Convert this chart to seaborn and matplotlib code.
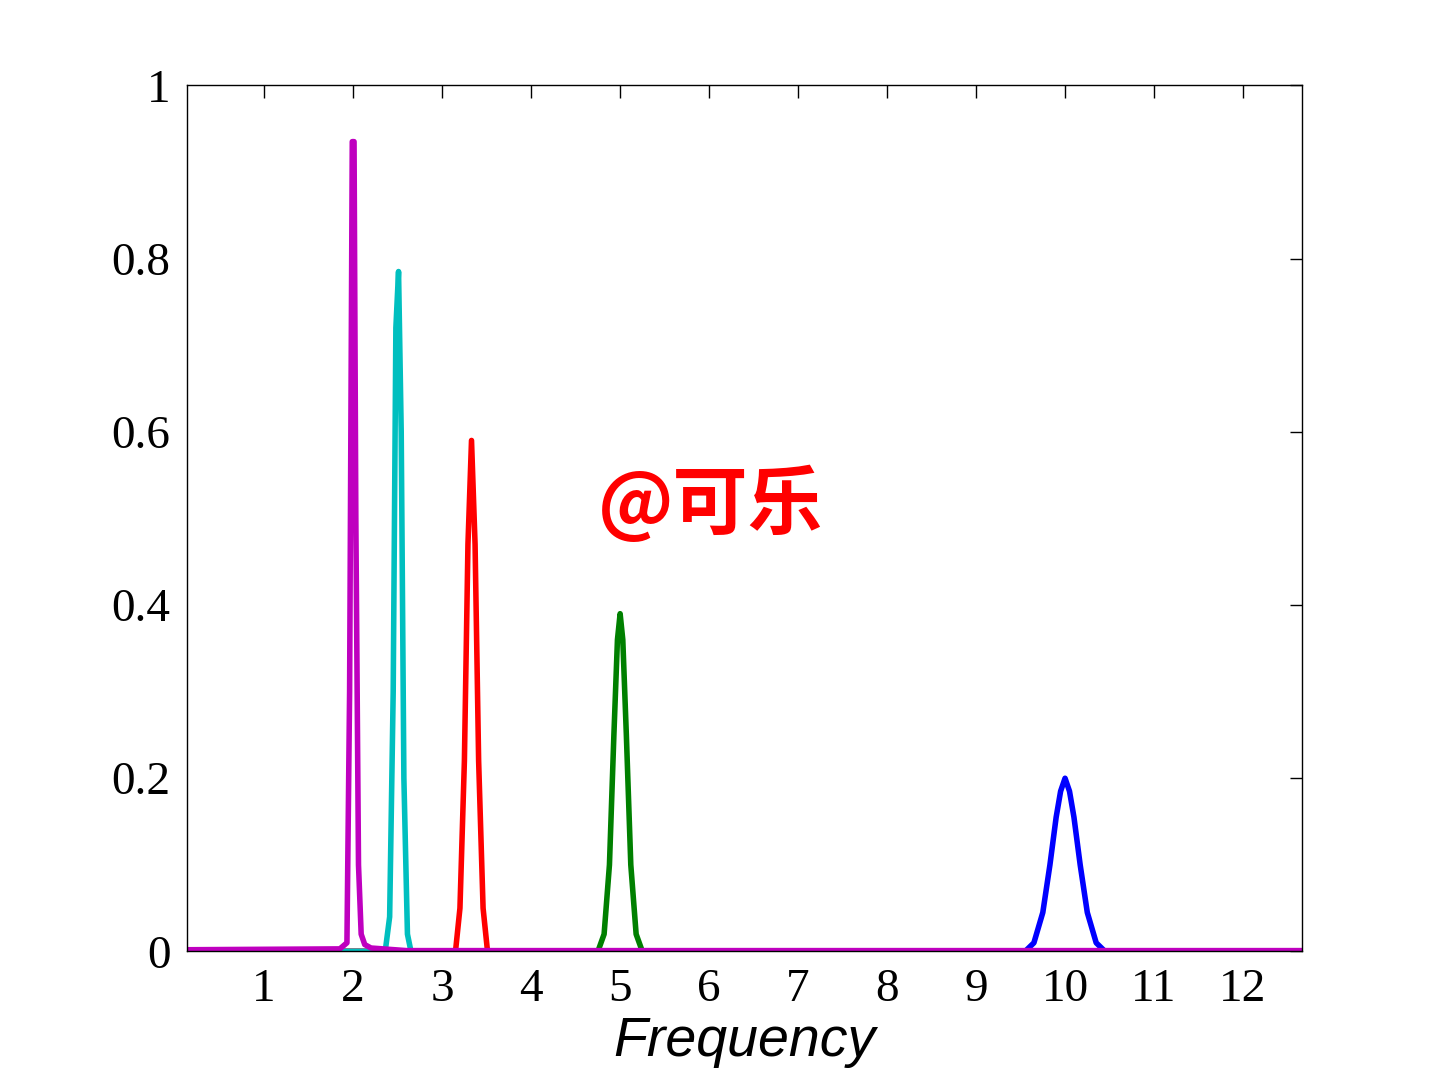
import seaborn as sns
import pandas as pd
import matplotlib.pyplot as plt

x_lo, x_hi = 0.135, 12.66

blue_x = [x_lo, 9.55, 9.65, 9.75, 9.83, 9.9, 9.95, 10.0, 10.05, 10.1, 10.17, 10.25, 10.35, 10.45, x_hi]
blue_y = [0, 0, 0.01, 0.045, 0.1, 0.155, 0.185, 0.2, 0.185, 0.155, 0.1, 0.045, 0.01, 0, 0]
green_x = [x_lo, 4.75, 4.82, 4.88, 4.93, 4.97, 5.0, 5.03, 5.07, 5.12, 5.18, 5.25, x_hi]
green_y = [0, 0, 0.02, 0.1, 0.25, 0.36, 0.39, 0.36, 0.25, 0.1, 0.02, 0, 0]
red_x = [x_lo, 3.15, 3.2, 3.25, 3.29, 3.33, 3.37, 3.41, 3.46, 3.51, x_hi]
red_y = [0, 0, 0.05, 0.22, 0.47, 0.59, 0.47, 0.22, 0.05, 0, 0]
cyan_x = [x_lo, 2.36, 2.41, 2.45, 2.48, 2.51, 2.54, 2.57, 2.61, 2.65, x_hi]
cyan_y = [0, 0, 0.04, 0.3, 0.72, 0.785, 0.6, 0.2, 0.02, 0, 0]
magenta_x = [x_lo, 1.85, 1.93, 1.96, 1.99, 2.01, 2.03, 2.06, 2.09, 2.13, 2.2, 2.6, x_hi]
magenta_y = [0.002, 0.003, 0.01, 0.3, 0.935, 0.935, 0.5, 0.1, 0.02, 0.008, 0.004, 0.001, 0.001]

series = [
    (blue_x, blue_y, '#0000ff'),
    (green_x, green_y, '#008000'),
    (red_x, red_y, '#ff0000'),
    (cyan_x, cyan_y, '#00bfbf'),
    (magenta_x, magenta_y, '#bf00bf'),
]

sns.set_style('white')
plt.rcParams['font.family'] = ['Liberation Serif', 'DejaVu Serif']

fig = plt.figure(figsize=(14.4, 10.8), dpi=100)
ax = fig.add_axes([0.13, 0.119, 0.774, 0.802])
for xs, ys, c in series:
    df = pd.DataFrame({'x': xs, 'y': ys})
    sns.lineplot(data=df, x='x', y='y', color=c, linewidth=4, ax=ax, sort=False)

ax.set_xlim(x_lo, x_hi)
ax.set_ylim(0, 1)
ax.set_xticks(range(1, 13))
ax.set_yticks([0, 0.2, 0.4, 0.6, 0.8, 1])
ax.set_yticklabels(['0', '0.2', '0.4', '0.6', '0.8', '1'])
ax.tick_params(direction='in', length=9, width=1, labelsize=34, top=True, right=True,
               pad=12, colors='black')
for s in ax.spines.values():
    s.set_color('black')
    s.set_linewidth(1)
ax.set_ylabel('')
ax.set_xlabel('Frequency', fontsize=40, style='italic', color='black',
              family=['Liberation Sans', 'DejaVu Sans'], labelpad=4)
ax.text(4.75, 0.515, '@可乐', color='red', fontsize=54, fontweight='bold',
        family=['Noto Sans CJK SC', 'DejaVu Sans'], va='center', ha='left')

plt.savefig('out.png', dpi=100)
